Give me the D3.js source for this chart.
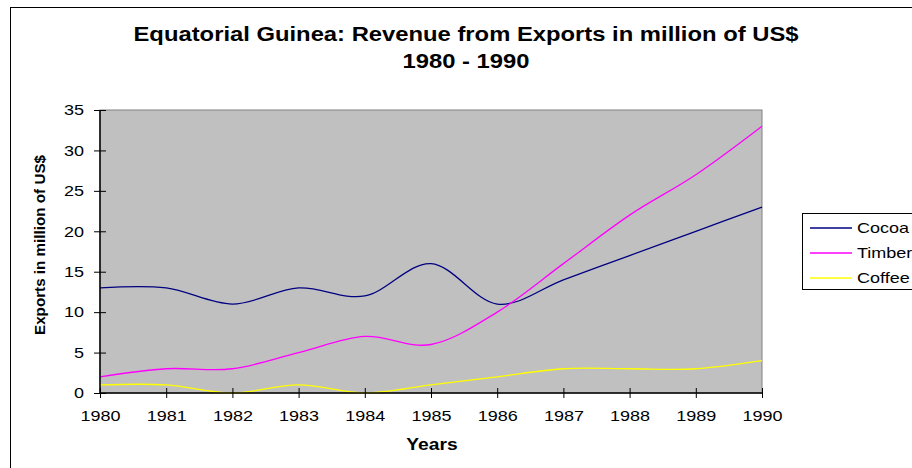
<!DOCTYPE html>
<html>
<head>
<meta charset="utf-8">
<script src="https://cdn.jsdelivr.net/npm/d3@7"></script>
<style>
  body { margin: 0; background: #fff; }
  text { font-family: "Liberation Sans", Arial, sans-serif; }
</style>
</head>
<body>
<div id="chart"></div>
<script>
// data
var years = [1980, 1981, 1982, 1983, 1984, 1985, 1986, 1987, 1988, 1989, 1990];
var cocoa = [13, 13, 11, 13, 12, 16, 11, 14, 17, 20, 23];
var timber = [2, 3, 3, 5, 7, 6, 10, 16, 22, 27, 33];
var coffee = [1, 1, 0, 1, 0, 1, 2, 3, 3, 3, 4];
var seriesNames = ["Cocoa", "Timber", "Coffee"];
var seriesColors = ["#000080", "#FF00FF", "#FFFF00"];
var yTicks = [0, 5, 10, 15, 20, 25, 30, 35];

var W = 912, H = 468;
var plot = { left: 100, top: 110, right: 762, bottom: 393 };
var wide = 1.2; // the text in the picture is drawn wider than the font's own widths

// stretch text to k times its natural width
var stretch = function(sel, k) {
    sel.each(function() {
        var len = this.getComputedTextLength();
        d3.select(this).attr("textLength", len * k).attr("lengthAdjust", "spacingAndGlyphs");
    });
};

var svg = d3.select("#chart").append("svg")
    .attr("width", W)
    .attr("height", H);

// outer chart frame
svg.append("rect")
    .attr("x", 10.5).attr("y", 7.5)
    .attr("width", W + 10).attr("height", H + 10)
    .attr("fill", "#fff").attr("stroke", "#000");

var x = d3.scaleLinear().domain([1980, 1990]).range([plot.left, plot.right]);
var y = d3.scaleLinear().domain([0, 35]).range([plot.bottom, plot.top]);

svg.append("rect")
    .attr("x", plot.left).attr("y", plot.top)
    .attr("width", plot.right - plot.left).attr("height", plot.bottom - plot.top)
    .attr("fill", "#C0C0C0").attr("stroke", "#808080");

var line = d3.line()
    .x(function(d) { return x(d[0]); })
    .y(function(d) { return y(d[1]); })
    .curve(d3.curveCardinal.tension(0));

var allSeries = [cocoa, timber, coffee];
allSeries.forEach(function(vals, i) {
    svg.append("path")
        .datum(years.map(function(yr, j) { return [yr, vals[j]]; }))
        .attr("d", line)
        .attr("fill", "none")
        .attr("stroke", seriesColors[i])
        .attr("stroke-width", 1.3);
});

// axes with cross ticks
var xAxis = svg.append("g")
    .attr("transform", "translate(0," + plot.bottom + ")")
    .call(d3.axisBottom(x).tickValues(years).tickFormat(d3.format("d")).tickSize(5).tickPadding(12));
xAxis.selectAll(".tick line").attr("y1", -5);
xAxis.select(".domain").attr("d", "M" + plot.left + ",0H" + plot.right);

var yAxis = svg.append("g")
    .attr("transform", "translate(" + plot.left + ",0)")
    .call(d3.axisLeft(y).tickValues(yTicks).tickSize(6).tickPadding(10));
yAxis.selectAll(".tick line").attr("x1", 6).attr("x2", -6);
yAxis.select(".domain").attr("d", "M0," + plot.top + "V" + plot.bottom);

svg.selectAll(".domain").attr("stroke", "#000").attr("stroke-width", 1.5);
svg.selectAll(".tick line").attr("stroke", "#000");
svg.selectAll(".tick text")
    .attr("font-family", "'Liberation Sans', Arial, sans-serif")
    .attr("font-size", 15).attr("fill", "#000")
    .call(stretch, wide);

// titles
var t1 = svg.append("text").attr("x", 466).attr("y", 41)
    .attr("text-anchor", "middle").attr("font-weight", "bold").attr("font-size", 20)
    .text("Equatorial Guinea: Revenue from Exports in million of US$");
var k1 = 665 / t1.node().getComputedTextLength();
t1.call(stretch, k1);
svg.append("text").attr("x", 466).attr("y", 68)
    .attr("text-anchor", "middle").attr("font-weight", "bold").attr("font-size", 20)
    .text("1980 - 1990")
    .call(stretch, k1);

svg.append("text").attr("x", 432).attr("y", 450)
    .attr("text-anchor", "middle").attr("font-weight", "bold").attr("font-size", 16)
    .text("Years")
    .call(stretch, wide);

svg.append("text")
    .attr("transform", "translate(45,245) rotate(-90)")
    .attr("text-anchor", "middle").attr("font-weight", "bold").attr("font-size", 14)
    .text("Exports in million of US$")
    .attr("textLength", 180).attr("lengthAdjust", "spacingAndGlyphs");

// legend
var legend = svg.append("g");
legend.append("rect")
    .attr("x", 802.5).attr("y", 213.5).attr("width", 130).attr("height", 76)
    .attr("fill", "#fff").attr("stroke", "#000");
seriesNames.forEach(function(name, i) {
    var ly = 228 + i * 25;
    legend.append("line")
        .attr("x1", 810).attr("x2", 852).attr("y1", ly).attr("y2", ly)
        .attr("stroke", seriesColors[i]).attr("stroke-width", 1.3);
    legend.append("text")
        .attr("x", 857).attr("y", ly + 5)
        .attr("font-size", 15)
        .text(name)
        .call(stretch, wide);
});
</script>
</body>
</html>
